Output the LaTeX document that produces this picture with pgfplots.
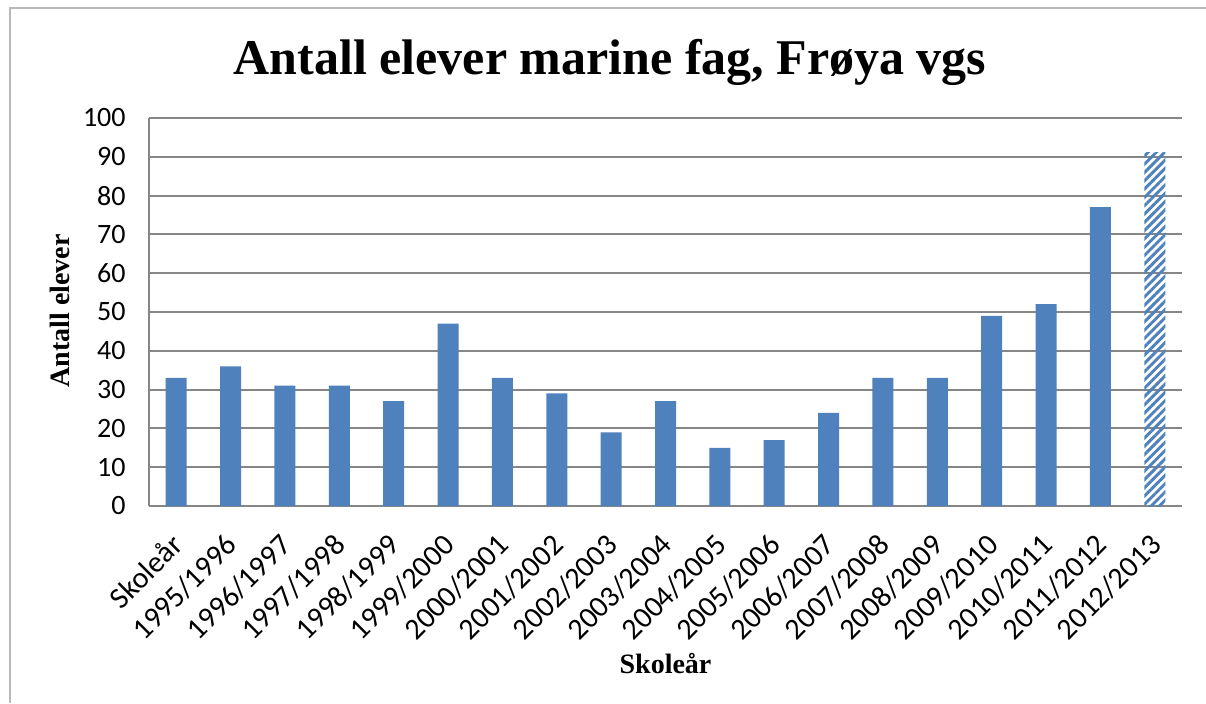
\documentclass[border=0pt]{standalone}
\usepackage{pgfplots}
\pgfplotsset{compat=1.18}
\usetikzlibrary{patterns.meta}
\usepackage{fontspec}
\setmainfont{Carlito}
\newfontfamily\titlefont{Liberation Serif}
\definecolor{barblue}{HTML}{4F81BD}
\definecolor{gridgray}{HTML}{868686}
\begin{document}
\begin{tikzpicture}
\useasboundingbox (0,0) rectangle (904.5pt,527.25pt);
\fill[white] (0,0) rectangle (904.5pt,527.25pt);
\draw[gray!55, line width=1.5pt] (7.5pt,0) -- (7.5pt,521.25pt) -- (904.5pt,521.25pt);
\begin{axis}[
  at={(111.75pt,147.75pt)}, anchor=south west,
  scale only axis, width=774.75pt, height=291pt,
  xmin=-0.5, xmax=18.5, ymin=0, ymax=100,
  ytick={0,10,...,100},
  xtick={0,...,18},
  xticklabels={Skoleår,1995/1996,1996/1997,1997/1998,1998/1999,1999/2000,2000/2001,2001/2002,2002/2003,2003/2004,2004/2005,2005/2006,2006/2007,2007/2008,2008/2009,2009/2010,2010/2011,2011/2012,2012/2013},
  axis x line*=bottom, axis y line*=left,
  axis line style={gridgray, line width=1.6pt},
  x axis line style={-}, y axis line style={-},
  ymajorgrids, major grid style={gridgray, line width=1.5pt},
  major tick length=0pt,
  tick label style={text=black},
  /pgf/number format/assume math mode=true,
  yticklabel style={font=\fontsize{21}{21}\selectfont, xshift=-14pt},
  xticklabel style={font=\fontsize{22.5}{22.5}\selectfont, xshift=-5pt, yshift=-19.5pt, rotate=45, anchor=north east, inner sep=0pt},
  xlabel={\titlefont\bfseries\fontsize{21}{21}\selectfont Skoleår},
  ylabel={\titlefont\bfseries\fontsize{21}{21}\selectfont Antall elever},
  xlabel style={at={(axis description cs:0.5,-0.405)}, anchor=center},
  ylabel style={at={(axis description cs:-0.0862,0.503)}, anchor=center},
  clip=false,
]
\addplot[ybar, bar width=15.75pt, bar shift=0pt, fill=barblue, draw=none]
  coordinates {(0,33) (1,36) (2,31) (3,31) (4,27) (5,47) (6,33) (7,29) (8,19) (9,27) (10,15) (11,17) (12,24) (13,33) (14,33) (15,49) (16,52) (17,77)};
\addplot[ybar, bar width=15.75pt, bar shift=0pt, draw=none,
  pattern={Lines[angle=45, distance=4.4pt, line width=2.2pt]}, pattern color=barblue]
  coordinates {(18,91)};
\end{axis}
\node[font=\titlefont\bfseries\fontsize{37.5}{37.5}\selectfont, anchor=base] at (457.5pt,471pt) {Antall elever marine fag, Frøya vgs};
\end{tikzpicture}
\end{document}
